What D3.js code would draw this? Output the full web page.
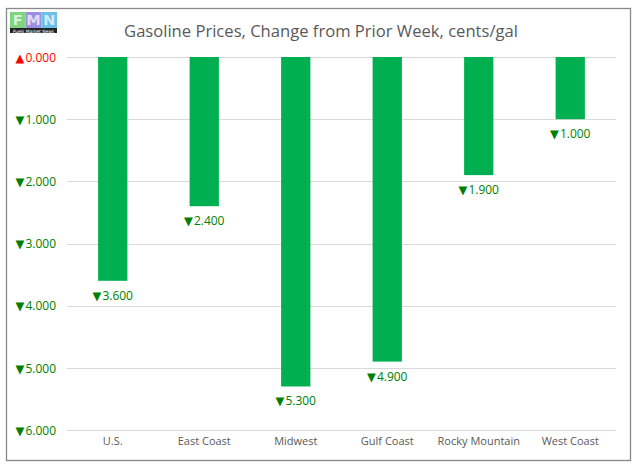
<!DOCTYPE html>
<html><head><meta charset="utf-8">
<script src="https://cdn.jsdelivr.net/npm/d3@7"></script>
<style>body{margin:0;background:#fff}svg{display:block}</style>
</head><body>
<script>
const categories = ["U.S.", "East Coast", "Midwest", "Gulf Coast", "Rocky Mountain", "West Coast"];
const changes = [-3.6, -2.4, -5.3, -4.9, -1.9, -1.0];
const yTicks = [0, 1, 2, 3, 4, 5, 6];
const title = "Gasoline Prices, Change from Prior Week, cents/gal";

const W = 638, H = 468;
const svg = d3.select("body").append("svg").attr("width", W).attr("height", H);
const font = "'Open Sans', 'Noto Sans', sans-serif";
const triFont = "'DejaVu Sans', sans-serif";

svg.append("rect").attr("x", 6.5).attr("y", 8.5).attr("width", 624).attr("height", 452)
  .attr("fill", "#fff").attr("stroke", "#898989").attr("stroke-width", 1.3);

// logo
const logo = svg.append("g").attr("transform", "translate(10,12)");
const lc = ["#7fd47f", "#9d8fe0", "#6cc0e8"];
const ll = ["F", "M", "N"];
ll.forEach((l, i) => {
  logo.append("rect").attr("x", i * 15.7).attr("y", 0).attr("width", 15.7).attr("height", 16).attr("fill", lc[i]);
  logo.append("text").attr("x", i * 15.7 + 7.8).attr("y", 13).attr("text-anchor", "middle")
    .attr("font-family", "DejaVu Sans").attr("font-weight", "bold").attr("font-size", 14.5)
    .attr("fill", "#fff").attr("fill-opacity", 0.7).text(l);
});
logo.append("rect").attr("x", 0).attr("y", 16).attr("width", 47).attr("height", 5).attr("fill", "#222");
logo.append("text").attr("x", 23.5).attr("y", 20.6).attr("text-anchor", "middle")
  .attr("font-family", "DejaVu Sans").attr("font-size", 4.4).attr("fill", "#fff").text("Fuels Market News");

svg.append("text").attr("x", 321).attr("y", 37).attr("text-anchor", "middle")
  .attr("font-family", font).attr("font-size", 16.6).attr("fill", "#595959").text(title);

const x = d3.scaleBand().domain(categories).range([67, 616]).paddingInner(0.68).paddingOuter(0.34);
const y = d3.scaleLinear().domain([0, 6]).range([57, 430]);

// gridlines
svg.append("g").selectAll("line").data(yTicks).join("line")
  .attr("x1", 67).attr("x2", 616).attr("y1", d => Math.round(y(d)) + 0.5).attr("y2", d => Math.round(y(d)) + 0.5)
  .attr("stroke", "#d9d9d9").attr("stroke-width", 1);

function setLabel(sel, val) {
  sel.text(null);
  sel.append("tspan").attr("font-family", triFont).attr("font-size", 11.5).text(val > 0 ? "▲" : "▼");
  sel.append("tspan").attr("dx", 1).text(d3.format(".3f")(Math.abs(val)));
}

const yAxis = d3.axisLeft(y).tickValues(yTicks).tickSize(0).tickPadding(0);
const ya = svg.append("g").attr("transform", "translate(56,0)").call(yAxis);
ya.select(".domain").remove();
ya.selectAll("text").attr("font-family", font).attr("font-size", 12)
  .attr("fill", d => d === 0 ? "#ff0000" : "#008000").attr("dy", "0.35em")
  .each(function(d) { setLabel(d3.select(this), d === 0 ? 1e-9 : -d); });

svg.append("g").selectAll("rect").data(categories).join("rect")
  .attr("x", d => x(d)).attr("width", x.bandwidth())
  .attr("y", y(0)).attr("height", (d, i) => y(-changes[i]) - y(0))
  .attr("fill", "#00b050");

svg.append("g").selectAll("text").data(categories).join("text")
  .attr("x", d => x(d) + x.bandwidth() / 2)
  .attr("y", (d, i) => y(-changes[i]) + 19)
  .attr("text-anchor", "middle").attr("font-family", font).attr("font-size", 12)
  .attr("fill", "#008000")
  .each(function(d, i) { setLabel(d3.select(this), changes[i]); });

const xAxis = d3.axisBottom(x).tickSize(0).tickPadding(0);
const xa = svg.append("g").attr("transform", "translate(0,441)").call(xAxis);
xa.select(".domain").remove();
xa.selectAll("text").attr("font-family", font).attr("font-size", 11).attr("fill", "#595959").attr("dy", "0.35em");
</script>
</body></html>
